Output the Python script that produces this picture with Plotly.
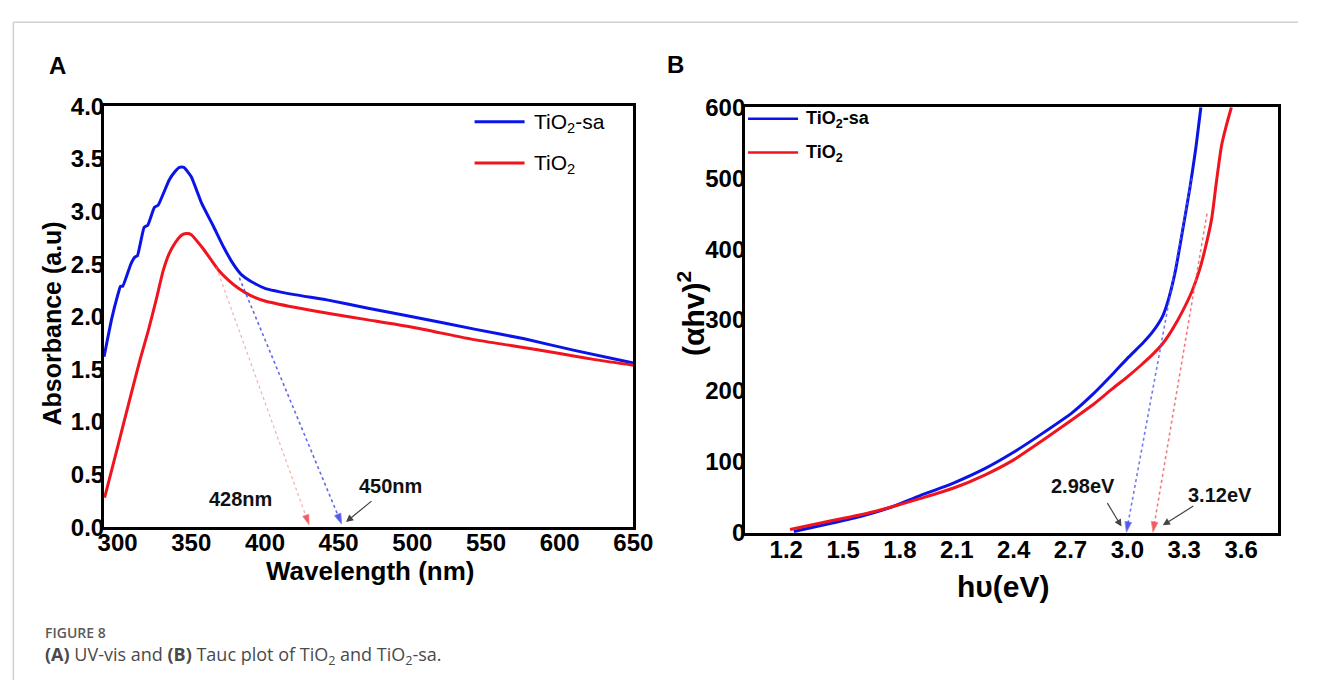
import plotly.graph_objects as go

W, H = 1318, 693

# ---------------- Panel A data (UV-vis) ----------------
wl_sa = [290.8, 296, 300, 302, 303.5, 309, 312, 313.5, 318, 320.5, 325, 327.5, 335, 339, 342, 345,
         350, 357, 365, 372, 379, 384, 390, 400, 420, 442, 470, 500, 543, 576, 610, 650]
abs_sa = [1.62, 1.98, 2.20, 2.29, 2.29, 2.50, 2.57, 2.58, 2.85, 2.87, 3.04, 3.06, 3.30, 3.38, 3.42, 3.42,
          3.33, 3.08, 2.86, 2.66, 2.49, 2.40, 2.34, 2.27, 2.21, 2.16, 2.08, 2.00, 1.88, 1.79, 1.68, 1.56]

wl_ti = [291.2, 300, 310, 315.4, 320.7, 326, 331, 335, 339.4, 344, 347.3, 350, 357.3, 363, 368.7, 375,
         382, 390.4, 400, 420, 443.6, 470, 500, 543, 570, 600, 625, 650]
abs_ti = [0.28, 0.76, 1.31, 1.60, 1.86, 2.15, 2.44, 2.60, 2.71, 2.78, 2.79, 2.78, 2.66, 2.55, 2.44, 2.35,
          2.27, 2.20, 2.15, 2.09, 2.03, 1.97, 1.90, 1.78, 1.72, 1.65, 1.59, 1.54]

# tangent (extrapolation) lines, panel A
tan_sa_x = [382.6, 452.0]
tan_sa_y = [2.37, 0.03]
tan_ti_x = [367.0, 430.0]
tan_ti_y = [2.47, 0.02]

# ---------------- Panel B data (Tauc) ----------------
ev_sa = [1.24, 1.443, 1.6, 1.759, 1.9, 2.079, 2.25, 2.395, 2.55, 2.711, 2.82, 2.923, 3.0, 3.083,
         3.135, 3.187, 3.22, 3.254, 3.29, 3.331, 3.36, 3.388]
tauc_sa = [2, 14, 24, 37, 52, 70, 91, 113, 140, 170, 196, 224, 246, 268,
           284, 306, 332, 370, 424, 488, 540, 600]

ev_ti = [1.22, 1.45, 1.6, 1.76, 1.9, 2.08, 2.25, 2.4, 2.55, 2.71, 2.82, 2.92, 3.0, 3.07, 3.135,
         3.19, 3.24, 3.29, 3.34, 3.38, 3.41, 3.445, 3.47, 3.497, 3.52, 3.549]
tauc_ti = [5, 18, 26, 37, 48, 63, 82, 103, 130, 160, 181, 203, 220, 236, 252,
           268, 288, 312, 340, 370, 400, 443, 495, 546, 572, 600]

tan_b_sa_x = [3.34, 2.995]
tan_b_sa_y = [500, 1]
tan_b_ti_x = [3.42, 3.135]
tan_b_ti_y = [450, 1]

BLUE = "#0a14e6"
RED = "#f0141e"
FONT = "Liberation Sans, Arial, sans-serif"


def px(x):
    return x / W


def py(y):
    return 1 - y / H


fig = go.Figure()

# Panel A curves
fig.add_trace(go.Scatter(x=wl_sa, y=abs_sa, mode="lines", line=dict(color=BLUE, width=3, shape="spline", smoothing=0.4),
                         xaxis="x", yaxis="y", showlegend=False))
fig.add_trace(go.Scatter(x=wl_ti, y=abs_ti, mode="lines", line=dict(color=RED, width=3, shape="spline", smoothing=0.6),
                         xaxis="x", yaxis="y", showlegend=False))
fig.add_trace(go.Scatter(x=tan_ti_x, y=tan_ti_y, mode="lines+markers",
                         line=dict(color="rgba(240,120,120,0.6)", width=1.2, dash="dot"),
                         marker=dict(symbol="arrow", angleref="previous", size=[0, 11], color=RED),
                         xaxis="x", yaxis="y", showlegend=False))
fig.add_trace(go.Scatter(x=tan_sa_x, y=tan_sa_y, mode="lines+markers",
                         line=dict(color="rgba(70,80,230,0.85)", width=1.6, dash="dot"),
                         marker=dict(symbol="arrow", angleref="previous", size=[0, 11], color=BLUE),
                         xaxis="x", yaxis="y", showlegend=False))

# Panel B curves
fig.add_trace(go.Scatter(x=ev_sa, y=tauc_sa, mode="lines", line=dict(color=BLUE, width=3, shape="spline", smoothing=0.6),
                         xaxis="x2", yaxis="y2", showlegend=False))
fig.add_trace(go.Scatter(x=ev_ti, y=tauc_ti, mode="lines", line=dict(color=RED, width=3, shape="spline", smoothing=0.6),
                         xaxis="x2", yaxis="y2", showlegend=False))
fig.add_trace(go.Scatter(x=tan_b_sa_x, y=tan_b_sa_y, mode="lines+markers",
                         line=dict(color="rgba(80,90,235,0.8)", width=1.6, dash="dot"),
                         marker=dict(symbol="arrow", angleref="previous", size=[0, 11], color=BLUE),
                         xaxis="x2", yaxis="y2", showlegend=False))
fig.add_trace(go.Scatter(x=tan_b_ti_x, y=tan_b_ti_y, mode="lines+markers",
                         line=dict(color="rgba(240,90,90,0.8)", width=1.6, dash="dot"),
                         marker=dict(symbol="arrow", angleref="previous", size=[0, 11], color=RED),
                         xaxis="x2", yaxis="y2", showlegend=False))

tickfont = dict(family=FONT, size=24, color="black", weight="bold")
axis_common = dict(showline=True, linewidth=3, linecolor="black", mirror=True, showgrid=False,
                   zeroline=False, ticks="", tickfont=tickfont, fixedrange=True)

fig.update_layout(
    width=W, height=H, margin=dict(l=0, r=0, t=0, b=0),
    paper_bgcolor="white", plot_bgcolor="white",
    xaxis=dict(domain=[px(100), px(640)], range=[290.8, 650],
               tickvals=[300, 350, 400, 450, 500, 550, 600, 650], anchor="y",
               ticklabelstandoff=-8, **axis_common),
    yaxis=dict(domain=[py(534), py(96)], range=[0, 4],
               tickvals=[0, 0.5, 1, 1.5, 2, 2.5, 3, 3.5, 4], tickformat=".1f", anchor="x",
               ticklabelstandoff=-8, **axis_common),
    xaxis2=dict(domain=[px(754), px(1298)], range=[0.983, 3.797],
                tickvals=[1.2, 1.5, 1.8, 2.1, 2.4, 2.7, 3.0, 3.3, 3.6], tickformat=".1f",
                anchor="y2", ticklabelstandoff=-7, **axis_common),
    yaxis2=dict(domain=[py(540), py(97)], range=[0, 600],
                tickvals=[0, 100, 200, 300, 400, 500, 600], anchor="x2",
                ticklabelstandoff=-8, **axis_common),
)

ann = []


def txt(x, y, text, size, weight="normal", color="black", angle=0, xanchor="center", family=FONT):
    ann.append(dict(x=px(x), y=py(y), xref="paper", yref="paper", text=text, showarrow=False,
                    xanchor=xanchor, yanchor="middle", textangle=angle,
                    font=dict(family=family, size=size, color=color, weight=weight)))


# panel letters
txt(53, 54, "A", 24, "bold")
txt(683, 53, "B", 24, "bold")

# axis titles
txt(47, 322, "Absorbance (a.u)", 25, "bold", angle=-90)
txt(371, 580, "Wavelength (nm)", 26, "bold")
txt(699, 312, "(αhv)<sup>2</sup>", 30, "bold", angle=-90)
txt(1017, 596, "hυ(eV)", 30, "bold")

# legend A
txt(537, 113, "TiO<sub>2</sub>-sa", 21, "normal", xanchor="left")
txt(537, 156, "TiO<sub>2</sub>", 21, "normal", xanchor="left")
# legend B
txt(814, 110, "TiO<sub>2</sub>-sa", 18, "bold", xanchor="left")
txt(814, 145, "TiO<sub>2</sub>", 18, "bold", xanchor="left")

# panel A labels
ann.append(dict(x=383.7, y=0.27, xref="x", yref="y", text="428nm", showarrow=False,
                font=dict(family=FONT, size=20, color="#111", weight="bold")))
ann.append(dict(x=485, y=0.39, xref="x", yref="y", text="450nm", showarrow=False,
                font=dict(family=FONT, size=20, color="#111", weight="bold")))
ann.append(dict(x=455, y=0.05, xref="x", yref="y", text="", showarrow=True, ax=27, ay=-22,
                arrowhead=2, arrowsize=1.2, arrowwidth=1.2, arrowcolor="#444"))

# panel B labels
ann.append(dict(x=2.768, y=66, xref="x2", yref="y2", text="2.98eV", showarrow=False,
                font=dict(family=FONT, size=20, color="#111", weight="bold")))
ann.append(dict(x=3.487, y=54, xref="x2", yref="y2", text="3.12eV", showarrow=False,
                font=dict(family=FONT, size=20, color="#111", weight="bold")))
ann.append(dict(x=2.969, y=9, xref="x2", yref="y2", text="", showarrow=True, ax=-15, ay=-25,
                arrowhead=2, arrowsize=1.2, arrowwidth=1.2, arrowcolor="#444"))
ann.append(dict(x=3.187, y=11, xref="x2", yref="y2", text="", showarrow=True, ax=32, ay=-20,
                arrowhead=2, arrowsize=1.2, arrowwidth=1.2, arrowcolor="#444"))

# caption
CAP = "Open Sans, Noto Sans, sans-serif"
ann.append(dict(x=px(38), y=py(644), xref="paper", yref="paper", text="FIGURE 8", showarrow=False,
                xanchor="left", yanchor="middle", font=dict(family=CAP, size=14, color="#5a5a5a", weight=600)))
ann.append(dict(x=px(38), y=py(667), xref="paper", yref="paper",
                text="<b>(A)</b> UV-vis and <b>(B)</b> Tauc plot of TiO<sub>2</sub> and TiO<sub>2</sub>-sa.",
                showarrow=False, xanchor="left", yanchor="middle",
                font=dict(family=CAP, size=18, color="#4a4a4a")))

fig.update_layout(annotations=ann)

shapes = [
    # card border (top & left)
    dict(type="line", xref="paper", yref="paper", x0=px(7.5), x1=1, y0=py(8.5), y1=py(8.5),
         line=dict(color="#d0d0d0", width=1.5)),
    dict(type="line", xref="paper", yref="paper", x0=px(7.5), x1=px(7.5), y0=py(8.5), y1=0,
         line=dict(color="#d0d0d0", width=1.5)),
    # legend lines A
    dict(type="line", xref="paper", yref="paper", x0=px(478), x1=px(529), y0=py(112), y1=py(112),
         line=dict(color=BLUE, width=3)),
    dict(type="line", xref="paper", yref="paper", x0=px(478), x1=px(529), y0=py(155), y1=py(155),
         line=dict(color=RED, width=3)),
    # legend lines B
    dict(type="line", xref="paper", yref="paper", x0=px(757), x1=px(808), y0=py(109), y1=py(109),
         line=dict(color=BLUE, width=2.5)),
    dict(type="line", xref="paper", yref="paper", x0=px(757), x1=px(808), y0=py(144), y1=py(144),
         line=dict(color=RED, width=2.5)),
]
fig.update_layout(shapes=shapes)

fig.write_html("out.html", config={"displayModeBar": False},
               post_script="document.body.style.margin='0';document.body.style.overflow='hidden';")
